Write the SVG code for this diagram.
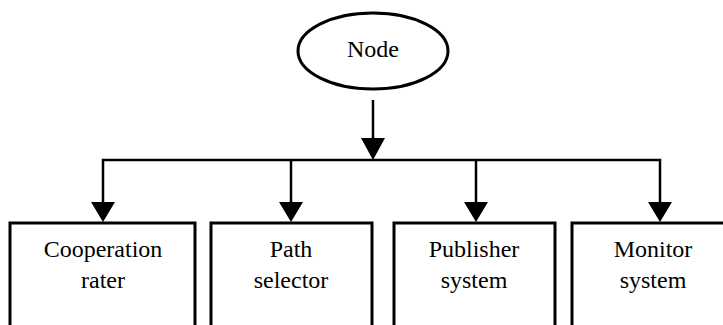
<svg xmlns="http://www.w3.org/2000/svg" width="723" height="325" viewBox="0 0 723 325">
<style>
.s{fill:none;stroke:#000;stroke-width:2.5}
.b{fill:#fff;stroke:#000;stroke-width:3}
.t{font-family:"Liberation Serif","Times New Roman",serif;font-size:24px;fill:#000;text-anchor:middle}
</style>
<rect width="723" height="325" fill="#fff"/>
<g id="connectors">
<line class="s" x1="373" y1="100" x2="373" y2="140"/>
<path d="M361,138 L385,138 L373,160 Z" fill="#000"/>
<polyline class="s" points="103,205 103,160 660,160 660,205"/>
<line class="s" x1="291" y1="160" x2="291" y2="205"/>
<line class="s" x1="476" y1="160" x2="476" y2="205"/>
<path d="M91,202 L115,202 L103,222 Z" fill="#000"/>
<path d="M279,202 L303,202 L291,222 Z" fill="#000"/>
<path d="M464,202 L488,202 L476,222 Z" fill="#000"/>
<path d="M648,202 L672,202 L660,222 Z" fill="#000"/>
</g>
<g id="node">
<ellipse class="b" cx="373" cy="51" rx="75" ry="38"/>
<text class="t" x="373" y="57">Node</text>
</g>
<g id="cooperation-rater">
<rect class="b" x="10" y="223" width="185" height="110"/>
<text class="t" x="103" y="257">Cooperation</text>
<text class="t" x="103" y="288">rater</text>
</g>
<g id="path-selector">
<rect class="b" x="211" y="223" width="161" height="110"/>
<text class="t" x="291" y="257">Path</text>
<text class="t" x="291" y="288">selector</text>
</g>
<g id="publisher-system">
<rect class="b" x="394" y="223" width="161" height="110"/>
<text class="t" x="474" y="257">Publisher</text>
<text class="t" x="474" y="288">system</text>
</g>
<g id="monitor-system">
<rect class="b" x="572" y="223" width="163" height="110"/>
<text class="t" x="653" y="257">Monitor</text>
<text class="t" x="653" y="288">system</text>
</g>
</svg>
